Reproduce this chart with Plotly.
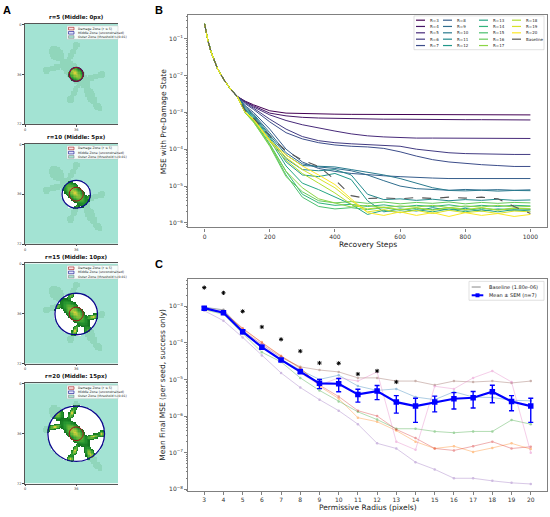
import numpy as np
import plotly.graph_objects as go
from plotly.colors import sample_colorscale

W, H = 550, 517
FONT = "DejaVu Sans"

# ---------------- panel A: damage / middle / outer zones ----------------
A_RADII = [5, 10, 15, 20]
DAMAGE_R = 5
A_TITLES = ["r=5 (Middle: 0px)", "r=10 (Middle: 5px)",
            "r=15 (Middle: 10px)", "r=20 (Middle: 15px)"]
A_TICKS = [0, 36, 72]
ZONE_LABELS = ["Damage Zone (r ≤ 5)", "Middle Zone (unconstrained)",
               "Outer Zone (threshold t<0.01)"]

# rough gecko silhouette as ellipses: (cx, cy, half-length, half-width, angle deg)
GECKO_PARTS = [
    (22, 21, 6.0, 4.8, 45),     # head
    (35, 35, 14.0, 5.5, 45),    # body
    (46, 51, 8.0, 3.2, 65),     # tail
    (51, 59, 4.5, 2.4, 35),     # tail tip
    (21, 31, 6.0, 2.0, 164),    # legs
    (33, 21, 6.0, 2.0, -65),
    (35, 48, 6.0, 2.0, 117),
    (48, 38, 6.0, 2.0, -13),
    (15, 33, 2.6, 2.6, 0),      # feet
    (36, 15, 2.6, 2.6, 0),
    (32, 54, 2.6, 2.6, 0),
    (54, 36, 2.6, 2.6, 0),
]

# ---------------- panel B: recovery curves ----------------
R_VALUES = list(range(3, 21))
STEPS = [0, 10, 20, 40, 60, 80, 100, 125, 150, 200, 250, 300, 350, 400, 450,
         500, 550, 600, 650, 700, 750, 800, 850, 900, 950, 1000]
HEAD_MSE = [2.5e-1, 9e-2, 4.3e-2, 1.5e-2, 7.5e-3, 4.2e-3, 2.7e-3]  # shared, steps 0-100

MSE_R3 = [2.0e-3, 1.6e-3, 1.1e-3, 9.5e-4, 9.2e-4, 9.0e-4, 8.9e-4, 8.8e-4, 8.8e-4, 8.7e-4,
          8.7e-4, 8.6e-4, 8.6e-4, 8.6e-4, 8.5e-4, 8.5e-4, 8.5e-4, 8.5e-4, 8.5e-4]
MSE_R4 = [1.9e-3, 1.5e-3, 9.5e-4, 8.0e-4, 7.3e-4, 7.0e-4, 6.8e-4, 6.7e-4, 6.6e-4, 6.5e-4,
          6.5e-4, 6.4e-4, 6.4e-4, 6.3e-4, 6.3e-4, 6.3e-4, 6.2e-4, 6.2e-4, 6.2e-4]
MSE_R5 = [1.9e-3, 1.4e-3, 8.5e-4, 6.0e-4, 4.6e-4, 3.7e-4, 3.1e-4, 2.6e-4, 2.3e-4, 2.15e-4,
          2.05e-4, 2.0e-4, 2.0e-4, 1.98e-4, 1.97e-4, 1.96e-4, 1.95e-4, 1.95e-4, 1.95e-4]
MSE_R6 = [1.8e-3, 1.3e-3, 6.5e-4, 3.5e-4, 2.2e-4, 1.7e-4, 1.5e-4, 1.4e-4, 1.35e-4, 1.3e-4,
          1.2e-4, 1.0e-4, 8.8e-5, 8.0e-5, 7.6e-5, 7.4e-5, 7.3e-5, 7.2e-5, 7.2e-5]
MSE_R7 = [1.7e-3, 1.2e-3, 5.5e-4, 2.8e-4, 1.9e-4, 1.5e-4, 1.3e-4, 1.2e-4, 1.15e-4, 1.05e-4,
          8.5e-5, 6.5e-5, 5.2e-5, 4.5e-5, 4.1e-5, 3.8e-5, 3.6e-5, 3.4e-5, 3.4e-5]
MSE_R8 = [1.5e-3, 1.0e-3, 3.5e-4, 1.0e-4, 4.5e-5, 3.0e-5, 2.5e-5, 2.2e-5, 2.0e-5, 1.9e-5,
          1.8e-5, 1.7e-5, 1.65e-5, 1.6e-5, 1.6e-5, 1.6e-5, 1.6e-5, 1.6e-5, 1.6e-5]
MSE_R9 = [1.4e-3, 9.0e-4, 2.8e-4, 8.0e-5, 4.0e-5, 3.3e-5, 3.0e-5, 2.6e-5, 2.0e-5, 1.4e-5,
          1.0e-5, 8.5e-6, 8.0e-6, 7.7e-6, 8.1e-6, 7.8e-6, 8.0e-6, 7.7e-6, 7.9e-6]
MSE_R10 = [1.3e-3, 8.5e-4, 2.5e-4, 7.0e-5, 3.6e-5, 3.4e-5, 3.3e-5, 2.8e-5, 2.4e-5, 2.0e-5,
           1.6e-5, 1.2e-5, 9.0e-6, 7.6e-6, 7.4e-6, 7.7e-6, 7.3e-6, 7.6e-6, 7.5e-6]
MSE_R11 = [1.2e-3, 8.0e-4, 2.2e-4, 5.5e-5, 2.8e-5, 2.6e-5, 2.8e-5, 2.0e-5, 6.0e-6, 4.3e-6,
           4.5e-6, 4.1e-6, 4.4e-6, 4.0e-6, 4.3e-6, 4.1e-6, 4.4e-6, 4.1e-6, 4.2e-6]
MSE_R12 = [1.2e-3, 7.5e-4, 2.0e-4, 4.5e-5, 2.0e-5, 1.8e-5, 2.2e-5, 1.5e-5, 4.0e-6, 2.0e-6,
           2.4e-6, 2.1e-6, 2.6e-6, 2.2e-6, 2.5e-6, 2.1e-6, 2.4e-6, 2.2e-6, 2.3e-6]
MSE_R13 = [1.1e-3, 7.0e-4, 1.8e-4, 3.5e-5, 1.2e-5, 8.0e-6, 5.0e-6, 3.2e-6, 1.7e-6, 2.2e-6,
           1.9e-6, 2.3e-6, 2.0e-6, 2.4e-6, 2.0e-6, 2.3e-6, 2.0e-6, 2.3e-6, 2.1e-6]
MSE_R14 = [1.0e-3, 6.0e-4, 1.4e-4, 2.5e-5, 6.0e-6, 3.5e-6, 3.0e-6, 3.2e-6, 2.8e-6, 3.1e-6,
           2.7e-6, 3.0e-6, 2.8e-6, 3.1e-6, 2.7e-6, 3.0e-6, 2.8e-6, 3.0e-6, 2.9e-6]
MSE_R15 = [1.0e-3, 5.8e-4, 1.3e-4, 2.0e-5, 5.0e-6, 2.8e-6, 2.4e-6, 2.6e-6, 2.3e-6, 2.6e-6,
           2.2e-6, 2.5e-6, 2.3e-6, 2.6e-6, 2.2e-6, 2.5e-6, 2.3e-6, 2.5e-6, 2.4e-6]
MSE_R16 = [9.5e-4, 5.5e-4, 1.2e-4, 1.8e-5, 7.0e-6, 4.0e-6, 3.5e-6, 3.8e-6, 3.4e-6, 3.7e-6,
           3.3e-6, 3.6e-6, 3.4e-6, 3.7e-6, 3.3e-6, 3.6e-6, 3.4e-6, 3.6e-6, 3.5e-6]
MSE_R17 = [9.5e-4, 5.5e-4, 1.3e-4, 2.5e-5, 9.0e-6, 4.5e-6, 3.5e-6, 2.7e-6, 3.0e-6, 2.6e-6,
           2.9e-6, 2.7e-6, 3.0e-6, 2.6e-6, 2.9e-6, 2.7e-6, 3.0e-6, 2.7e-6, 2.8e-6]
MSE_R18 = [1.0e-3, 6.0e-4, 1.6e-4, 5.0e-5, 2.2e-5, 1.2e-5, 6.5e-6, 3.2e-6, 2.4e-6, 2.7e-6,
           2.3e-6, 2.6e-6, 2.2e-6, 2.6e-6, 2.3e-6, 2.6e-6, 2.2e-6, 2.5e-6, 2.4e-6]
MSE_R19 = [1.0e-3, 6.5e-4, 1.8e-4, 6.0e-5, 2.8e-5, 1.6e-5, 9.0e-6, 4.0e-6, 2.0e-6, 2.3e-6,
           1.9e-6, 2.2e-6, 1.8e-6, 2.2e-6, 1.9e-6, 2.1e-6, 1.8e-6, 2.1e-6, 2.0e-6]
MSE_R20 = [1.0e-3, 6.5e-4, 1.7e-4, 7.0e-5, 3.5e-5, 2.0e-5, 1.1e-5, 4.5e-6, 1.9e-6, 1.6e-6,
           2.0e-6, 1.6e-6, 1.9e-6, 1.5e-6, 1.9e-6, 1.6e-6, 1.8e-6, 1.5e-6, 1.7e-6]
MSE_BASELINE = [1.1e-3, 7.0e-4, 2.3e-4, 9.0e-5, 5.0e-5, 3.4e-5, 1.5e-5, 5.5e-6, 4.6e-6, 4.8e-6,
                4.5e-6, 4.9e-6, 4.6e-6, 5.0e-6, 4.7e-6, 5.0e-6, 4.5e-6, 2.8e-6, 1.8e-6]
CURVES = [MSE_R3, MSE_R4, MSE_R5, MSE_R6, MSE_R7, MSE_R8, MSE_R9, MSE_R10, MSE_R11,
          MSE_R12, MSE_R13, MSE_R14, MSE_R15, MSE_R16, MSE_R17, MSE_R18, MSE_R19, MSE_R20]

# ---------------- panel C: final MSE vs radius ----------------
RADIUS = list(range(3, 21))
SEED_BLUE = [9.5e-4, 7.8e-4, 2.1e-4, 7.5e-5, 3.5e-5, 1.8e-5, 1.0e-5, 1.3e-5, 6.6e-6,
             5.0e-6, 5.5e-6, 3.3e-6, 2.8e-6, 4.6e-6, 3.3e-6, 3.2e-6, 2.7e-6, 2.6e-6]
SEED_ORANGE = [8.2e-4, 6.8e-4, 2.4e-4, 1.05e-4, 4.4e-5, 2.1e-5, 6.5e-6, 3.0e-6, 9e-7,
               7e-7, 4e-7, 2e-7, 1.3e-7, 1.5e-7, 1.05e-7, 1.35e-7, 1.8e-7, 1.25e-7]
SEED_GREEN = [8e-4, 6e-4, 1.8e-4, 5.5e-5, 3e-5, 1.1e-5, 5e-6, 2.5e-6, 1.3e-6,
              8e-7, 4.5e-7, 4.5e-7, 3.8e-7, 3.5e-7, 3.8e-7, 3.8e-7, 7.8e-7, 6e-7]
SEED_RED = [8.5e-4, 7e-4, 2.5e-4, 1e-4, 4.3e-5, 2e-5, 7e-6, 3.4e-6, 1.4e-6,
            1e-6, 4.3e-7, 2.5e-7, 1.3e-7, 1.15e-7, 1.5e-7, 2e-7, 1.3e-7, 1.45e-7]
SEED_PURPLE = [7.5e-4, 4e-4, 1.4e-4, 4.5e-5, 1.5e-5, 6e-6, 2.8e-6, 1.4e-6, 6e-7,
               1.8e-7, 1.3e-7, 5.5e-8, 3.5e-8, 2e-8, 2e-8, 1.7e-8, 1.5e-8, 1.4e-8]
SEED_BROWN = [9e-4, 8e-4, 2.2e-4, 9e-5, 4e-5, 2.2e-5, 1.8e-5, 1.6e-5, 1.1e-5,
              1.1e-5, 9e-6, 9e-6, 7e-6, 9e-6, 8.5e-6, 9e-6, 8e-6, 9e-6]
SEED_PINK = [9e-4, 7e-4, 2e-4, 9e-5, 3.5e-5, 1.5e-5, 7e-6, 1.1e-5, 9e-6,
             1.6e-5, 2e-7, 1.2e-7, 6.5e-6, 5.5e-6, 1.1e-5, 1.7e-5, 8.5e-6, 1e-7]
SEEDS = [SEED_BLUE, SEED_ORANGE, SEED_GREEN, SEED_RED, SEED_PURPLE, SEED_BROWN, SEED_PINK]
SEED_COLORS = ["#1f77b4", "#ff7f0e", "#2ca02c", "#d62728", "#9467bd", "#8c564b", "#e377c2"]

MEAN_MSE = [8.8e-4, 6.6e-4, 2.0e-4, 7.6e-5, 3.4e-5, 1.65e-5, 7.8e-6, 7.6e-6, 3.9e-6,
            4.8e-6, 2.4e-6, 1.87e-6, 2.4e-6, 2.96e-6, 3.16e-6, 4.6e-6, 2.5e-6, 1.87e-6]
SEM_MSE = [8e-5, 6e-5, 2.2e-5, 8e-6, 3e-6, 2e-6, 2.2e-6, 3e-6, 1.5e-6,
           2e-6, 1.2e-6, 1.2e-6, 1.1e-6, 1.4e-6, 1.5e-6, 2.3e-6, 1.1e-6, 1.2e-6]
STAR_R = list(range(3, 14))
STAR_Y = [3.2e-3, 2.3e-3, 7.2e-4, 2.7e-4, 1.24e-4, 5.9e-5, 2.8e-5, 2.75e-5, 1.4e-5, 1.7e-5, 8.5e-6]
BASELINE = 1.80e-6
BASELINE_LO, BASELINE_HI = 6.2e-7, 3.0e-6


def px(x):
    return x / W


def py(y):
    return 1 - y / H


fig = go.Figure()
shapes, annos = [], []
layout = {}

# ---------- panel A ----------
yy, xx = np.mgrid[0:72, 0:72].astype(float)
q = np.full((72, 72), np.inf)
for cx, cy, a, b, ang in GECKO_PARTS:
    t = np.deg2rad(ang)
    dx, dy = xx - cx, yy - cy
    u = dx * np.cos(t) + dy * np.sin(t)
    v = -dx * np.sin(t) + dy * np.cos(t)
    q = np.minimum(q, np.sqrt((u / a) ** 2 + (v / b) ** 2))
gecko = q <= 1
dist = np.hypot(xx - 36, yy - 36)

zone_scale = [[0.0, "#a3e3d3"], [0.124, "#a3e3d3"],
              [0.125, "#90d6bb"], [0.374, "#90d6bb"],
              [0.375, "#ffffff"], [0.624, "#ffffff"],
              [0.625, "#0f6e1c"], [0.75, "#2a9a32"], [0.88, "#7dbd3a"], [1.0, "#d6d03c"]]

A_TOPS = [23, 143.5, 264, 384.5]
A_HEIGHT = 101
for k, r in enumerate(A_RADII):
    sfx = "" if k == 0 else str(k + 1)
    z = np.zeros((72, 72))
    z[gecko] = 1
    mid = dist <= r + 0.3
    z[mid] = 2
    sel = mid & gecko
    z[sel] = 2.5 + 1.5 * np.clip(1 - q[sel], 0, 1)
    fig.add_trace(go.Heatmap(z=z, x=np.arange(72), y=np.arange(72), colorscale=zone_scale,
                             zmin=0, zmax=4, showscale=False, hoverinfo="skip",
                             xaxis="x" + sfx, yaxis="y" + sfx))
    top = A_TOPS[k]
    bot = top + A_HEIGHT
    layout["xaxis" + sfx] = dict(domain=[px(24.5), px(118)], range=[-0.5, 65.5], anchor="y" + sfx,
                                 tickvals=A_TICKS, ticks="outside", ticklen=1.5, tickwidth=0.5,
                                 tickfont=dict(size=3.5, color="#333"), showline=True,
                                 linecolor="#555", linewidth=0.6, mirror=True,
                                 showgrid=False, zeroline=False)
    layout["yaxis" + sfx] = dict(domain=[py(bot), py(top)], range=[72.05, -0.5], anchor="x" + sfx,
                                 tickvals=A_TICKS, ticks="outside", ticklen=1.5, tickwidth=0.5,
                                 tickfont=dict(size=3.5, color="#333"), showline=True,
                                 linecolor="#555", linewidth=0.6, showgrid=False, zeroline=False)
    # zone boundaries
    shapes.append(dict(type="circle", xref="x" + sfx, yref="y" + sfx, x0=36 - r, x1=36 + r,
                       y0=36 - r, y1=36 + r, line=dict(color="#0a0a8c", width=1.3)))
    shapes.append(dict(type="circle", xref="x" + sfx, yref="y" + sfx, x0=36 - DAMAGE_R,
                       x1=36 + DAMAGE_R, y0=36 - DAMAGE_R, y1=36 + DAMAGE_R,
                       line=dict(color="#a3161a", width=1)))
    annos.append(dict(x=px(76), y=py(top - 6.5), text="<b>%s</b>" % A_TITLES[k],
                      font=dict(size=5.5, color="#111")))
    # small zone legend
    shapes.append(dict(type="rect", xref="paper", yref="paper", x0=px(67), x1=px(118),
                       y0=py(top + 15.5), y1=py(top + 2), fillcolor="rgba(255,255,255,0.9)",
                       line=dict(color="#bbb", width=0.4)))
    patch = [("#fbe3e3", "#a3161a"), ("#e3e3fb", "#0a0a8c"), ("#a3e3d3", "#888")]
    for i, lab in enumerate(ZONE_LABELS):
        yc = top + 4.8 + 4.2 * i
        shapes.append(dict(type="rect", xref="paper", yref="paper", x0=px(68.5), x1=px(74),
                           y0=py(yc + 1.3), y1=py(yc - 1.3), fillcolor=patch[i][0],
                           line=dict(color=patch[i][1], width=0.6)))
        annos.append(dict(x=px(75.5), y=py(yc), xanchor="left", text=lab,
                          font=dict(size=3.2, color="#222")))

# ---------- panel B ----------
colors = sample_colorscale("Viridis", [i / 17 for i in range(18)])
for r, tail, c in zip(R_VALUES, CURVES, colors):
    fig.add_trace(go.Scatter(x=STEPS, y=HEAD_MSE + tail, mode="lines", name="R=%d" % r,
                             line=dict(color=c, width=1), xaxis="x5", yaxis="y5"))
fig.add_trace(go.Scatter(x=STEPS, y=HEAD_MSE + MSE_BASELINE, mode="lines", name="Baseline",
                         line=dict(color="#555", width=1.1, dash="dash"), xaxis="x5", yaxis="y5"))

minor_vals = [m * 10.0 ** e for e in range(-9, 0) for m in range(2, 10)]
axis_style = dict(showline=True, linecolor="#808080", linewidth=1.3, mirror=True,
                  ticks="outside", ticklen=3, tickwidth=0.8, tickcolor="#808080",
                  tickfont=dict(size=6, color="#333"), showgrid=False, zeroline=False)
minor_style = dict(tickvals=minor_vals, ticks="outside", ticklen=1.6,
                   tickcolor="#808080", tickwidth=0.6)

layout["xaxis5"] = dict(domain=[px(188.3), px(546.7)], range=[-50, 1050], anchor="y5",
                        tickvals=[0, 200, 400, 600, 800, 1000], **axis_style)
layout["yaxis5"] = dict(domain=[py(227.7), py(14)], type="log", range=[-6.12, -0.36], anchor="x5",
                        tickvals=[10.0 ** -e for e in range(1, 7)],
                        ticktext=["10<sup>−%d</sup>" % e for e in range(1, 7)],
                        minor=minor_style, **axis_style)

# legend of panel B (4 columns)
shapes.append(dict(type="rect", xref="paper", yref="paper", x0=px(414), x1=px(544),
                   y0=py(49), y1=py(15), fillcolor="white", line=dict(color="#ccc", width=0.6)))
col_x = [416, 443, 479, 512]
row_y = [19.3, 25.6, 32.0, 38.4, 44.8]
labels = ["R=%d" % r for r in R_VALUES] + ["Baseline"]
lcolors = colors + ["#555"]
for i, (lab, c) in enumerate(zip(labels, lcolors)):
    cx0, ry = col_x[i // 5], row_y[i % 5]
    shapes.append(dict(type="line", xref="paper", yref="paper", x0=px(cx0), x1=px(cx0 + 9),
                       y0=py(ry), y1=py(ry),
                       line=dict(color=c, width=1.2, dash="dash" if lab == "Baseline" else "solid")))
    annos.append(dict(x=px(cx0 + 12), y=py(ry), xanchor="left", text=lab,
                      font=dict(size=4, color="#222")))

# ---------- panel C ----------
shapes.append(dict(type="rect", xref="x6 domain", yref="y6", x0=0, x1=1,
                   y0=np.log10(BASELINE_LO), y1=np.log10(BASELINE_HI),
                   fillcolor="#e6e6e6", line=dict(width=0), layer="below"))
shapes.append(dict(type="line", xref="x6 domain", yref="y6", x0=0, x1=1,
                   y0=np.log10(BASELINE), y1=np.log10(BASELINE),
                   line=dict(color="#888", width=1, dash="dash")))
for s, c in zip(SEEDS, SEED_COLORS):
    fig.add_trace(go.Scatter(x=RADIUS, y=s, mode="lines+markers", opacity=0.45,
                             line=dict(color=c, width=0.8), marker=dict(color=c, size=2.5),
                             xaxis="x6", yaxis="y6"))
fig.add_trace(go.Scatter(x=RADIUS, y=MEAN_MSE, mode="lines+markers", name="Mean ± SEM (n=7)",
                         line=dict(color="#0000ff", width=2.2),
                         marker=dict(color="#0000ff", symbol="square", size=5.5),
                         error_y=dict(type="data", array=SEM_MSE, color="#0000ff",
                                      thickness=1.4, width=2.5),
                         xaxis="x6", yaxis="y6"))
fig.add_trace(go.Scatter(x=STAR_R, y=STAR_Y, mode="markers",
                         marker=dict(symbol="asterisk-open", size=3.5, color="black",
                                     line=dict(color="black", width=1)),
                         xaxis="x6", yaxis="y6"))

layout["xaxis6"] = dict(domain=[px(188.3), px(546.7)], range=[2.17, 20.83], anchor="y6",
                        tickvals=RADIUS, **axis_style)
layout["yaxis6"] = dict(domain=[py(493), py(280)], type="log", range=[-8.05, -2.27], anchor="x6",
                        tickvals=[10.0 ** -e for e in range(3, 9)],
                        ticktext=["10<sup>−%d</sup>" % e for e in range(3, 9)],
                        minor=minor_style, **axis_style)

# legend of panel C
shapes.append(dict(type="rect", xref="paper", yref="paper", x0=px(469), x1=px(544),
                   y0=py(301), y1=py(282), fillcolor="white", line=dict(color="#ccc", width=0.6)))
shapes.append(dict(type="line", xref="paper", yref="paper", x0=px(471.7), x1=px(483.3),
                   y0=py(287.7), y1=py(287.7), line=dict(color="#888", width=1, dash="dash")))
shapes.append(dict(type="line", xref="paper", yref="paper", x0=px(471.7), x1=px(483.3),
                   y0=py(296), y1=py(296), line=dict(color="#0000ff", width=2)))
shapes.append(dict(type="rect", xref="paper", yref="paper", x0=px(475.5), x1=px(479.5),
                   y0=py(298), y1=py(294), fillcolor="#0000ff", line=dict(width=0)))
annos.append(dict(x=px(486.5), y=py(287.7), xanchor="left", text="Baseline (1.80e-06)",
                  font=dict(size=5, color="#222")))
annos.append(dict(x=px(486.5), y=py(296), xanchor="left", text="Mean ± SEM (n=7)",
                  font=dict(size=5, color="#222")))

# axis titles and panel letters
title_font = dict(size=7.5, color="#222")
annos += [
    dict(x=px(367.5), y=py(245), text="Recovery Steps", font=title_font),
    dict(x=px(163), y=py(121), text="MSE with Pre-Damage State", textangle=-90, font=title_font),
    dict(x=px(367.5), y=py(509), text="Permissive Radius (pixels)", font=title_font),
    dict(x=px(163), y=py(386), text="Mean Final MSE (per seed, success only)", textangle=-90,
         font=title_font),
]
for letter, lx, ly in [("A", 7, 9), ("B", 159, 9), ("C", 159, 265)]:
    annos.append(dict(x=px(lx), y=py(ly), text="<b>%s</b>" % letter,
                      font=dict(size=11, family="Liberation Sans", color="black")))
for a in annos:
    a.setdefault("xref", "paper")
    a.setdefault("yref", "paper")
    a.setdefault("showarrow", False)
    a.setdefault("xanchor", "center")
    a.setdefault("yanchor", "middle")

fig.update_layout(width=W, height=H, margin=dict(l=0, r=0, t=0, b=0),
                  paper_bgcolor="white", plot_bgcolor="white", showlegend=False,
                  font=dict(family=FONT), shapes=shapes, annotations=annos, **layout)

# page body has a default margin; drop it so the figure fills the window
fig.write_html("out.html", config={"displayModeBar": False},
               post_script="document.body.style.margin='0';")
